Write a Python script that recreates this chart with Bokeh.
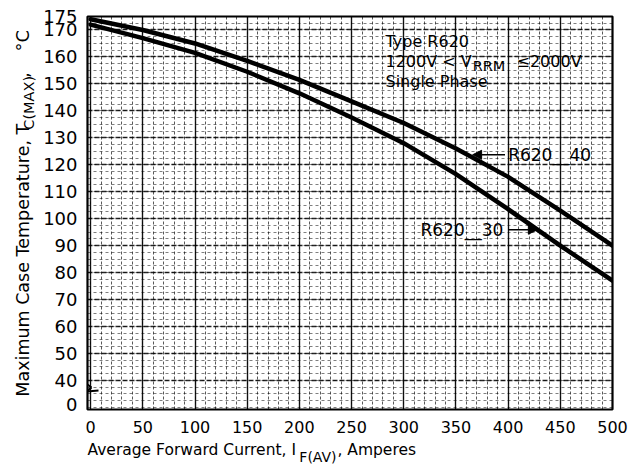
import math
from bokeh.plotting import figure
from bokeh.layouts import row, column
from bokeh.models import FixedTicker, Label, Arrow, NormalHead, Range1d
from bokeh.embed import file_html
from bokeh.resources import INLINE

# ---------------- data ----------------
current_a = [0, 50, 100, 150, 200, 250, 300, 350, 400, 450, 500]
tcase_r620_40 = [174.0, 170.0, 165.0, 158.5, 151.5, 143.5, 135.5, 126.0, 115.5, 103.0, 90.0]
tcase_r620_30 = [172.0, 167.0, 161.5, 154.5, 146.5, 137.5, 128.0, 116.5, 103.5, 90.0, 77.0]
series_names = ["R620__40", "R620__30"]
x_tick_values = [0, 50, 100, 150, 200, 250, 300, 350, 400, 450, 500]
y_tick_values = [0, 40, 50, 60, 70, 80, 90, 100, 110, 120, 130, 140, 150, 160, 170, 175]

FONT = "DejaVu Sans"


def ypos(v):
    """Axis with a break: 0..40 is compressed into a short span."""
    return v if v >= 40 else 31 + v * 9 / 40


# approximate DejaVu Sans advance widths (em), used only to chain text pieces
W = {" ": .318, ",": .318, ".": .318, "(": .390, ")": .390, "<": .838, "\u2264": .838,
     "\u00b0": .500, "_": .500, "A": .684, "C": .698, "F": .575, "I": .295, "M": .863,
     "P": .603, "R": .695, "S": .635, "T": .611, "V": .684, "X": .686, "a": .613,
     "c": .550, "d": .635, "e": .615, "g": .635, "h": .634, "i": .278, "l": .278,
     "m": .974, "n": .634, "o": .612, "p": .635, "r": .411, "s": .521, "t": .392,
     "u": .634, "v": .592, "w": .818, "x": .592, "y": .592}


def tw(s, size):
    return sum(W.get(c, .636) for c in s) * size


# layout geometry (pixels)
LEFT_W = 40          # width of the strip holding the y title
MAIN_W, MAIN_H = 590, 437
BOT_H = 27           # strip holding the x title
OX, OY = 1, 1        # where the page content starts in the picture

p = figure(width=MAIN_W, height=MAIN_H,
           x_range=Range1d(-3, 500), y_range=Range1d(29.2, 175),
           output_backend="svg", toolbar_location=None,
           min_border_left=44, min_border_right=18, min_border_top=16, min_border_bottom=28)
p.background_fill_color = "white"
p.border_fill_color = "white"
p.outline_line_color = "black"
p.outline_line_width = 2.2

# axes
p.xaxis.ticker = FixedTicker(ticks=x_tick_values)
p.yaxis.ticker = FixedTicker(ticks=[ypos(v) for v in y_tick_values])
p.yaxis.major_label_overrides = {ypos(v): str(v) for v in y_tick_values}
for ax, size, stand in ((p.xaxis, "16px", 5), (p.yaxis, "18px", 4)):
    ax.axis_line_color = None
    ax.major_tick_line_color = None
    ax.minor_tick_line_color = None
    ax.major_label_text_font = FONT
    ax.major_label_text_font_size = size
    ax.major_label_text_color = "black"
    ax.major_label_standoff = stand

# graph-paper grid
p.xgrid.ticker = FixedTicker(ticks=x_tick_values, minor_ticks=list(range(0, 501, 10)))
p.xgrid.grid_line_color = "black"
p.xgrid.grid_line_width = 1.4
p.xgrid.grid_line_alpha = 0.9
p.xgrid.minor_grid_line_color = "black"
p.xgrid.minor_grid_line_dash = "3 2"
p.xgrid.minor_grid_line_width = 1
p.xgrid.minor_grid_line_alpha = 0.65

p.ygrid.ticker = FixedTicker(ticks=list(range(40, 171, 10)),
                             minor_ticks=[v / 4 for v in range(120, 701, 10)])
p.ygrid.grid_line_color = "black"
p.ygrid.grid_line_width = 1.3
p.ygrid.grid_line_dash = "5 2"
p.ygrid.grid_line_alpha = 0.85
p.ygrid.minor_grid_line_color = "black"
p.ygrid.minor_grid_line_dash = "3 3"
p.ygrid.minor_grid_line_width = 1
p.ygrid.minor_grid_line_alpha = 0.5

# curves
for ys in (tcase_r620_40, tcase_r620_30):
    p.line(current_a, ys, line_width=4.5, line_color="black", line_join="round", line_cap="round")

# curve labels with arrows
p.add_layout(Label(x=400, y=123.7, text=series_names[0], text_font=FONT, text_font_size="17px",
                   text_align="left", text_baseline="middle", text_color="black"))
p.add_layout(Arrow(x_start=397, y_start=123.7, x_end=366, y_end=123.7, line_width=1.5,
                   end=NormalHead(size=9, fill_color="black", line_color="black")))
p.add_layout(Label(x=316, y=95.9, text=series_names[1], text_font=FONT, text_font_size="17px",
                   text_align="left", text_baseline="middle", text_color="black"))
p.add_layout(Arrow(x_start=400, y_start=95.9, x_end=428, y_end=95.9, line_width=1.5,
                   end=NormalHead(size=9, fill_color="black", line_color="black")))


def flabel(fig, x, y, text, size, angle=0.0, units="screen", align="left"):
    fig.add_layout(Label(x=x, y=y, x_units=units, y_units=units, text=text,
                         text_font=FONT, text_font_size=f"{size}px", text_align=align,
                         text_baseline="middle", text_color="black", angle=angle))


# info block, frame-relative screen coords (frame left = picture x 85, bottom = picture y 410)
FL, FB = 85, 410
bx = 383 - FL
flabel(p, bx, FB - 42, "Type R620", 16)
flabel(p, bx, FB - 62, "1200V < V", 16)
flabel(p, bx + tw("1200V < V", 16) + 1, FB - 66, "RRM", 14.5)
flabel(p, bx + 131, FB - 62, "\u22642000V", 16)
flabel(p, bx, FB - 82, "Single Phase", 16)

# axis-break mark (inside the frame)
brk = [(0, 25), (4, 22), (-1, 18), (11, 19)]
for (x0, y0), (x1, y1) in zip(brk[:-1], brk[1:]):
    p.add_layout(Arrow(x_start=x0, y_start=y0, x_end=x1, y_end=y1, start_units="screen",
                       end_units="screen", end=None, line_width=2, line_color="black"))

# ---- strip with the rotated y title (data units = pixels, origin at strip's top-left) ----
ft = figure(width=LEFT_W, height=MAIN_H, x_range=Range1d(0, LEFT_W), y_range=Range1d(MAIN_H, 0),
            output_backend="svg", toolbar_location=None, min_border=0,
            x_axis_location=None, y_axis_location=None)
ft.outline_line_color = None
ft.grid.visible = False
ft.border_fill_color = "white"
ft.background_fill_color = "white"

# pieces are centred on their positions in the reference (picture y of each piece's middle)
ycx = 23 - OX
rot = math.pi / 2
flabel(ft, ycx, 272 - OY, "Maximum Case Temperature, T", 17.5, rot, "data", "center")
flabel(ft, ycx + 6, 97 - OY, "C(MAX)", 14.5, rot, "data", "center")
flabel(ft, ycx, 66 - OY, ",", 17.5, rot, "data", "center")
flabel(ft, ycx, 28 - OY, "\u00b0C", 18, rot, "data", "center")

# ---- strip with the x title ----
fb = figure(width=LEFT_W + MAIN_W, height=BOT_H, x_range=Range1d(0, LEFT_W + MAIN_W),
            y_range=Range1d(BOT_H, 0), output_backend="svg", toolbar_location=None,
            min_border=0, x_axis_location=None, y_axis_location=None)
fb.outline_line_color = None
fb.grid.visible = False
fb.border_fill_color = "white"
fb.background_fill_color = "white"

top_b = OY + MAIN_H
xx = 88 - OX
part1, sub1, part2 = "Average Forward Current, I", "F(AV)", ", Amperes"
flabel(fb, xx, 450 - top_b, part1, 15.5, 0, "data")
xx += tw(part1, 15.5) + 1
flabel(fb, xx, 457 - top_b, sub1, 14, 0, "data")
xx += tw(sub1, 14)
flabel(fb, xx, 450 - top_b, part2, 15.5, 0, "data")

layout = column(row(ft, p), fb)
open("out.html", "w").write(file_html(layout, INLINE))
